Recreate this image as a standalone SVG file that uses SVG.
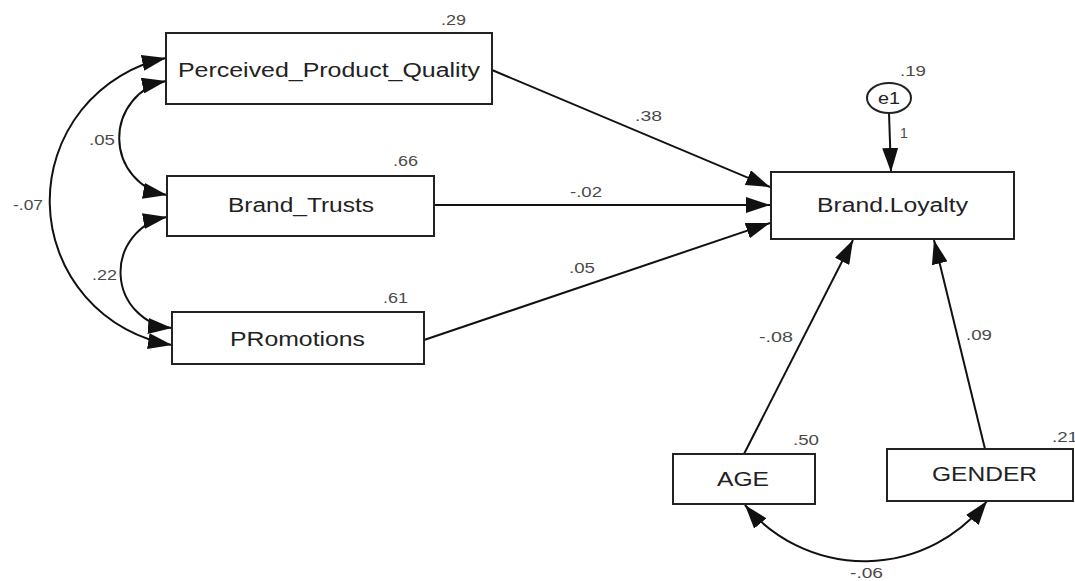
<svg xmlns="http://www.w3.org/2000/svg" width="1075" height="581" viewBox="0 0 1075 581">
<defs>
<marker id="ah" markerUnits="userSpaceOnUse" markerWidth="25" markerHeight="16" refX="24" refY="8" orient="auto-start-reverse" viewBox="0 0 25 16">
<path d="M0,0 L24,8 L0,16 z" fill="#111"/>
</marker>
<style>
.box{fill:#fff;stroke:#222;stroke-width:2}
.nt{font-family:"Liberation Sans",Arial,sans-serif;font-size:19.5px;fill:#222}
.lb{font-family:"Liberation Sans",Arial,sans-serif;font-size:14px;fill:#4a4a4a}
.ln{fill:none;stroke:#111;stroke-width:2}
.one{marker-end:url(#ah)}
.two{marker-start:url(#ah);marker-end:url(#ah)}
</style>
</defs>
<rect width="1075" height="581" fill="#fff"/>
<g id="connectors">
<path class="ln one" d="M492,70 L770,187"/>
<path class="ln one" d="M434,205 L770,205"/>
<path class="ln one" d="M424,340 L770,223"/>
<path class="ln one" d="M889,113 L891,172"/>
<path class="ln one" d="M744,454 L853,240"/>
<path class="ln one" d="M985,449 L934,240"/>
<path class="ln two" d="M166,58 A146,146 0 0 0 172,345"/>
<path class="ln two" d="M166,81 A58,58 0 0 0 167,195"/>
<path class="ln two" d="M167,217 A56,56 0 0 0 172,328"/>
<path class="ln two" d="M745,505 A155,155 0 0 0 987,501"/>
</g>
<g id="labels">
<text class="lb" x="89" y="145" textLength="26" lengthAdjust="spacingAndGlyphs">.05</text>
<text class="lb" x="13" y="210" textLength="30" lengthAdjust="spacingAndGlyphs">-.07</text>
<text class="lb" x="92" y="280" textLength="25" lengthAdjust="spacingAndGlyphs">.22</text>
<text class="lb" x="635" y="121" textLength="27" lengthAdjust="spacingAndGlyphs">.38</text>
<text class="lb" x="570" y="197" textLength="32" lengthAdjust="spacingAndGlyphs">-.02</text>
<text class="lb" x="569" y="273" textLength="26" lengthAdjust="spacingAndGlyphs">.05</text>
<text class="lb" x="900" y="138">1</text>
<text class="lb" x="759" y="342" textLength="34" lengthAdjust="spacingAndGlyphs">-.08</text>
<text class="lb" x="966" y="340" textLength="26" lengthAdjust="spacingAndGlyphs">.09</text>
<text class="lb" x="850" y="578" textLength="33" lengthAdjust="spacingAndGlyphs">-.06</text>
</g>
<g id="ppq">
<rect class="box" x="166" y="33" width="326" height="71"/>
<text class="nt" x="178" y="77" textLength="302" lengthAdjust="spacingAndGlyphs">Perceived_Product_Quality</text>
<text class="lb" x="441" y="25" textLength="25" lengthAdjust="spacingAndGlyphs">.29</text>
</g>
<g id="brand_trusts">
<rect class="box" x="167" y="176" width="267" height="60"/>
<text class="nt" x="228" y="212" textLength="146" lengthAdjust="spacingAndGlyphs">Brand_Trusts</text>
<text class="lb" x="393" y="166" textLength="25" lengthAdjust="spacingAndGlyphs">.66</text>
</g>
<g id="promotions">
<rect class="box" x="172" y="312" width="252" height="52"/>
<text class="nt" x="230" y="346" textLength="135" lengthAdjust="spacingAndGlyphs">PRomotions</text>
<text class="lb" x="383" y="303" textLength="25" lengthAdjust="spacingAndGlyphs">.61</text>
</g>
<g id="brand_loyalty">
<rect class="box" x="771" y="172" width="243" height="67"/>
<text class="nt" x="817" y="212" textLength="151" lengthAdjust="spacingAndGlyphs">Brand.Loyalty</text>
</g>
<g id="e1">
<ellipse cx="889" cy="98" rx="22" ry="15" fill="#fff" stroke="#222" stroke-width="2"/>
<text class="nt" x="878" y="104" style="font-size:17px" textLength="22" lengthAdjust="spacingAndGlyphs">e1</text>
<text class="lb" x="900" y="76" textLength="26" lengthAdjust="spacingAndGlyphs">.19</text>
</g>
<g id="age">
<rect class="box" x="673" y="454" width="142" height="50"/>
<text class="nt" x="717" y="486" textLength="52" lengthAdjust="spacingAndGlyphs">AGE</text>
<text class="lb" x="793" y="445" textLength="26" lengthAdjust="spacingAndGlyphs">.50</text>
</g>
<g id="gender">
<rect class="box" x="887" y="449" width="186" height="52"/>
<text class="nt" x="932" y="481" textLength="105" lengthAdjust="spacingAndGlyphs">GENDER</text>
<text class="lb" x="1052" y="442" textLength="26" lengthAdjust="spacingAndGlyphs">.21</text>
</g>
</svg>
